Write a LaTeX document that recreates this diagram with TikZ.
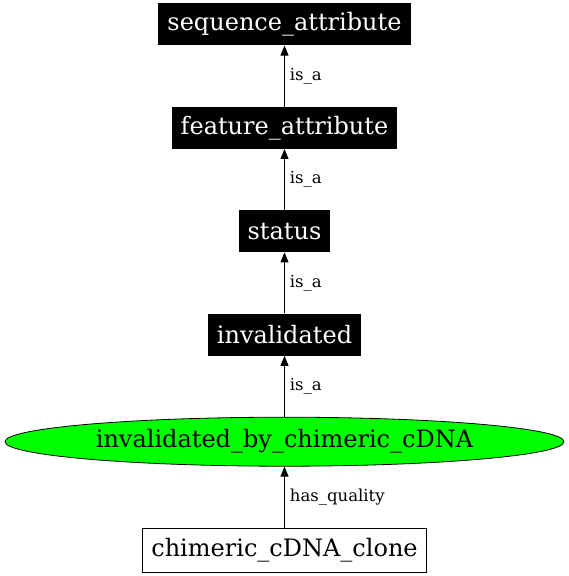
\documentclass[tikz,border=0pt]{standalone}
\usepackage{fontspec}
\setmainfont{DejaVu Serif}
\usetikzlibrary{positioning,arrows.meta,shapes.geometric}
\tikzset{
  termbox/.style={rectangle,fill=black,text=white,minimum height=42pt,inner xsep=9pt,font=\fontsize{24}{26}\selectfont},
  leafbox/.style={rectangle,draw,fill=white,line width=0.8pt,minimum height=44pt,inner xsep=9pt,font=\fontsize{24}{26}\selectfont},
  qualnode/.style={ellipse,draw,fill=green,line width=0.8pt,minimum width=559pt,minimum height=49pt,inner sep=0pt,font=\fontsize{24}{26}\selectfont},
  rel/.style={-{Triangle[length=10pt,width=8pt]},line width=0.8pt},
  rellabel/.style={right,font=\fontsize{16.5}{18}\selectfont,inner sep=5pt}
}

\begin{document}
\begin{tikzpicture}[node distance=61pt]
\useasboundingbox (-284.5pt,-26pt) rectangle (284.5pt,550pt);
\node[leafbox] (clone) at (0,0) {chimeric\_cDNA\_clone};
\node[qualnode,above=of clone] (chim) {invalidated\_by\_chimeric\_cDNA};
\node[termbox,above=of chim] (inval) {invalidated};
\node[termbox,above=of inval] (status) {status};
\node[termbox,above=of status] (featattr) {feature\_attribute};
\node[termbox,above=of featattr] (seqattr) {sequence\_attribute};

\draw[rel] (clone)--node[rellabel]{has\_quality}(chim);
\draw[rel] (chim)--node[rellabel]{is\_a}(inval);
\draw[rel] (inval)--node[rellabel]{is\_a}(status);
\draw[rel] (status)--node[rellabel]{is\_a}(featattr);
\draw[rel] (featattr)--node[rellabel]{is\_a}(seqattr);

\end{tikzpicture}
\end{document}
